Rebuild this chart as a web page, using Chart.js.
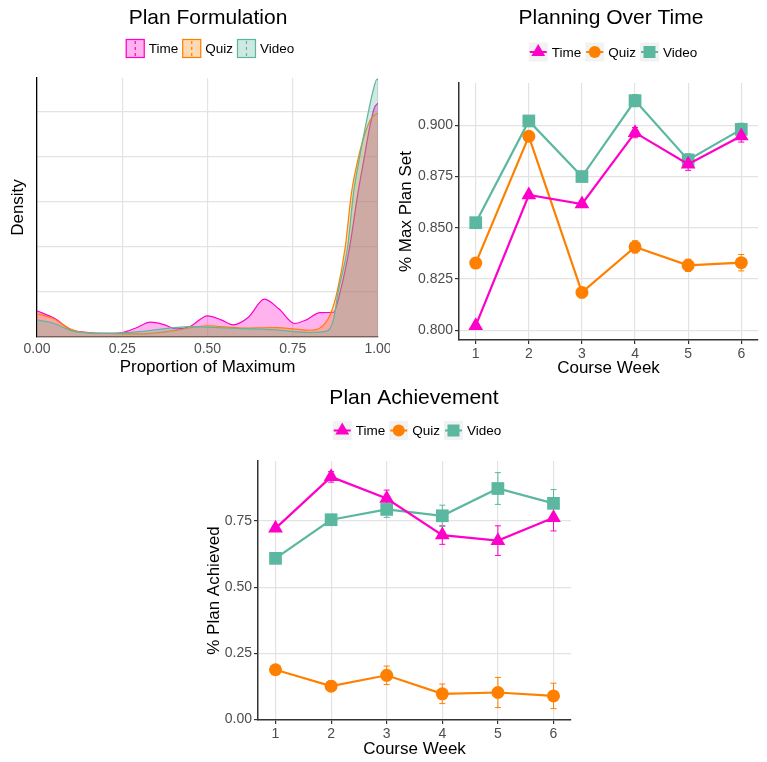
<!DOCTYPE html>
<html>
<head>
<meta charset="utf-8">
<script src="https://cdn.jsdelivr.net/npm/chart.js@4.4.0/dist/chart.umd.min.js"></script>
<style>
  body { margin: 0; background: #fff; width: 767px; height: 762px; position: relative; overflow: hidden; }
  .panel { position: absolute; overflow: hidden; }
</style>
</head>
<body>
<div class="panel" style="left:0;top:0;width:390px;height:385px"><canvas id="c1" width="400" height="385" style="width:400px;height:385px"></canvas></div>
<div class="panel" style="left:390px;top:0;width:377px;height:385px"><canvas id="c2" width="377" height="385" style="width:377px;height:385px"></canvas></div>
<div class="panel" style="left:190px;top:385px;width:390px;height:377px"><canvas id="c3" width="390" height="377" style="width:390px;height:377px"></canvas></div>
<script>
// series names + colours
const seriesNames = ["Time", "Quiz", "Video"];
const colTime = "#FF00C8";
const colQuiz = "#FF8000";
const colVideo = "#5BB7A0";

// density curves (Plan Formulation)
const timeDensX = [0, 0.05, 0.1, 0.15, 0.2, 0.25, 0.29, 0.333, 0.37, 0.41, 0.45, 0.5, 0.54, 0.575, 0.62, 0.667, 0.71, 0.755, 0.79, 0.83, 0.87, 0.889, 0.917, 0.941, 0.96, 0.976, 0.99, 1.0];
const timeDensY = [0.58, 0.42, 0.16, 0.1, 0.08, 0.1, 0.2, 0.33, 0.28, 0.18, 0.24, 0.47, 0.38, 0.27, 0.44, 0.84, 0.62, 0.3, 0.38, 0.54, 0.55, 1.0, 2.0, 3.19, 4.0, 4.67, 5.1, 5.19];
const quizDensX = [0, 0.05, 0.1, 0.15, 0.2, 0.3, 0.4, 0.5, 0.6, 0.7, 0.8, 0.83, 0.86, 0.88, 0.904, 0.922, 0.94, 0.961, 0.98, 1.0];
const quizDensY = [0.52, 0.4, 0.17, 0.09, 0.08, 0.07, 0.14, 0.25, 0.2, 0.21, 0.15, 0.2, 0.5, 1.0, 2.0, 3.19, 3.9, 4.5, 4.85, 4.98];
const videoDensX = [0, 0.05, 0.1, 0.15, 0.2, 0.3, 0.45, 0.55, 0.7, 0.8, 0.85, 0.87, 0.883, 0.911, 0.928, 0.945, 0.963, 0.985, 0.997, 1.0];
const videoDensY = [0.38, 0.3, 0.14, 0.09, 0.08, 0.12, 0.23, 0.2, 0.16, 0.1, 0.13, 0.4, 1.0, 2.0, 3.19, 3.95, 4.67, 5.45, 5.72, 5.72];
const densTicks = [0, 0.25, 0.5, 0.75, 1];
const densGrid = [0, 1, 2, 3, 4, 5];

// weekly means + error bars
const weeks = [1, 2, 3, 4, 5, 6];
const planSetTime = [0.8023, 0.866, 0.8616, 0.8964, 0.881, 0.8948];
const planSetQuiz = [0.8328, 0.8946, 0.8185, 0.8407, 0.8317, 0.833];
const planSetVideo = [0.8525, 0.9021, 0.875, 0.912, 0.8831, 0.898];
const planSetTimeErr = [0.001, 0.001, 0.0015, 0.0025, 0.003, 0.003];
const planSetQuizErr = [0.001, 0.001, 0.001, 0.003, 0.003, 0.004];
const planSetVideoErr = [0.001, 0.001, 0.001, 0.003, 0.003, 0.003];
const planSetTicks = [0.8, 0.825, 0.85, 0.875, 0.9];

const achTime = [0.7224, 0.917, 0.835, 0.697, 0.676, 0.7626];
const achQuiz = [0.188, 0.126, 0.167, 0.097, 0.102, 0.089];
const achVideo = [0.609, 0.755, 0.794, 0.770, 0.873, 0.817];
const achTimeErr = [0.01, 0.02, 0.032, 0.035, 0.056, 0.05];
const achQuizErr = [0.01, 0.02, 0.035, 0.037, 0.057, 0.048];
const achVideoErr = [0.01, 0.02, 0.03, 0.04, 0.06, 0.052];
const achTicks = [0, 0.25, 0.5, 0.75];

const FONT = '"Liberation Sans", Arial, sans-serif';
const tickCol = "#4D4D4D";
const gridCol = "#E3E3E3";

function pairs(xs, ys) { return xs.map((x, i) => ({ x: x, y: ys[i] })); }
function alpha(hex, a) {
  const n = parseInt(hex.slice(1), 16);
  return "rgba(" + (n >> 16) + "," + ((n >> 8) & 255) + "," + (n & 255) + "," + a + ")";
}

function marker(ctx, shape, x, y, col) {
  ctx.fillStyle = col;
  ctx.beginPath();
  if (shape === "triangle") {
    const r = 8;
    ctx.moveTo(x, y - r);
    ctx.lineTo(x + r * 0.866, y + r * 0.5);
    ctx.lineTo(x - r * 0.866, y + r * 0.5);
    ctx.closePath();
  } else if (shape === "circle") {
    ctx.arc(x, y, 6, 0, Math.PI * 2);
  } else {
    ctx.rect(x - 6, y - 6, 12, 12);
  }
  ctx.fill();
}

const cols = [colTime, colQuiz, colVideo];
const shapes = ["triangle", "circle", "rect"];

// title + legend drawn at fixed spots
function decor(title, tx, ty, lx, ly, kind) {
  return {
    id: "decor",
    afterDraw(chart) {
      const ctx = chart.ctx;
      ctx.save();
      ctx.font = "21px " + FONT;
      ctx.fillStyle = "#000";
      ctx.textAlign = "center";
      ctx.textBaseline = "middle";
      ctx.fillText(title, tx, ty);
      ctx.font = "13.5px " + FONT;
      ctx.textAlign = "left";
      const key = 19, gap = 4, sep = 4;
      let total = 0;
      seriesNames.forEach(n => { total += key + gap + ctx.measureText(n).width + sep; });
      total -= sep;
      let x = lx - total / 2;
      seriesNames.forEach((n, i) => {
        const y0 = ly - key / 2;
        if (kind === "fill") {
          ctx.fillStyle = alpha(cols[i], 0.3);
          ctx.fillRect(x, y0, key, key);
          ctx.strokeStyle = cols[i];
          ctx.lineWidth = 1.2;
          ctx.strokeRect(x + 0.5, y0 + 0.5, key - 1, key - 1);
          ctx.setLineDash([3, 3]);
          ctx.beginPath();
          ctx.moveTo(x + key / 2, y0 + 2);
          ctx.lineTo(x + key / 2, y0 + key - 2);
          ctx.stroke();
          ctx.setLineDash([]);
        } else {
          ctx.fillStyle = "#F2F2F2";
          ctx.fillRect(x, y0, key, key);
          ctx.strokeStyle = cols[i];
          ctx.lineWidth = 2;
          ctx.beginPath();
          ctx.moveTo(x + 1, ly);
          ctx.lineTo(x + key - 1, ly);
          ctx.stroke();
          marker(ctx, shapes[i], x + key / 2, ly, cols[i]);
        }
        ctx.fillStyle = "#000";
        ctx.fillText(n, x + key + gap, ly + 1);
        x += key + gap + ctx.measureText(n).width + sep;
      });
      ctx.restore();
    }
  };
}

const errorBars = {
  id: "errorBars",
  beforeDatasetsDraw(chart) {
    const ctx = chart.ctx, xs = chart.scales.x, ys = chart.scales.y;
    chart.data.datasets.forEach(ds => {
      if (!ds.errors) return;
      ctx.save();
      ctx.strokeStyle = ds.borderColor;
      ctx.lineWidth = 1;
      ds.data.forEach((p, i) => {
        const e = ds.errors[i];
        const x = xs.getPixelForValue(p.x);
        const y1 = ys.getPixelForValue(p.y - e), y2 = ys.getPixelForValue(p.y + e);
        ctx.beginPath();
        ctx.moveTo(x, y1); ctx.lineTo(x, y2);
        ctx.moveTo(x - 3, y1); ctx.lineTo(x + 3, y1);
        ctx.moveTo(x - 3, y2); ctx.lineTo(x + 3, y2);
        ctx.stroke();
      });
      ctx.restore();
    });
  }
};

function densSet(label, xs, ys, col) {
  return {
    label: label, data: pairs(xs, ys), borderColor: col, backgroundColor: alpha(col, 0.3),
    fill: "origin", borderWidth: 1.2, pointRadius: 0, cubicInterpolationMode: "monotone"
  };
}

// Plan Formulation
new Chart(document.getElementById("c1"), {
  type: "line",
  data: {
    datasets: [
      Object.assign(densSet("Video", videoDensX, videoDensY, colVideo), { order: 1 }),
      Object.assign(densSet("Quiz", quizDensX, quizDensY, colQuiz), { order: 2 }),
      Object.assign(densSet("Time", timeDensX, timeDensY, colTime), { order: 3 })
    ]
  },
  options: {
    responsive: false, animation: false,
    layout: { padding: { left: 0, top: 78, right: 22, bottom: 0 } },
    scales: {
      x: {
        type: "linear", min: 0, max: 1,
        afterBuildTicks: s => { s.ticks = densTicks.map(v => ({ value: v })); },
        ticks: { callback: v => v.toFixed(2), color: tickCol, font: { family: FONT, size: 14 }, padding: 4, maxRotation: 0 },
        grid: { color: gridCol, lineWidth: 1.2, drawTicks: false },
        border: { display: true, color: "#222", width: 1.3 },
        title: { display: true, text: "Proportion of Maximum", color: "#000", font: { family: FONT, size: 17 }, padding: { top: 0, bottom: 7 } },
        afterFit: s => { s.height = 48; }
      },
      y: {
        min: 0, max: 5.75,
        afterBuildTicks: s => { s.ticks = densGrid.map(v => ({ value: v })); },
        ticks: { display: false },
        grid: { color: gridCol, lineWidth: 1.2, drawTicks: false },
        border: { display: true, color: "#000", width: 1.3 },
        title: { display: true, text: "Density", color: "#000", font: { family: FONT, size: 17 }, padding: { top: 8, bottom: 0 } },
        afterFit: s => { s.width = 37; }
      }
    },
    plugins: { legend: { display: false }, tooltip: { enabled: false } }
  },
  plugins: [decor("Plan Formulation", 208, 18, 210, 48.5, "fill")]
});

function weekSets(t, q, v, te, qe, ve) {
  const base = { borderWidth: 2.2, pointBorderWidth: 0 };
  return [
    Object.assign({ label: "Time", data: pairs(weeks, t), errors: te, borderColor: colTime, backgroundColor: colTime, pointStyle: "triangle", pointRadius: 8.5 }, base),
    Object.assign({ label: "Quiz", data: pairs(weeks, q), errors: qe, borderColor: colQuiz, backgroundColor: colQuiz, pointStyle: "circle", pointRadius: 6.5 }, base),
    Object.assign({ label: "Video", data: pairs(weeks, v), errors: ve, borderColor: colVideo, backgroundColor: colVideo, pointStyle: "rect", pointRadius: 9 }, base)
  ];
}

function weekOptions(ymin, ymax, yTicks, digits, yTitle, pad, yWidth, xHeight, ytp, xtb) {
  return {
    responsive: false, animation: false,
    layout: { padding: pad },
    scales: {
      x: {
        type: "linear", min: 0.685, max: 6.315,
        afterBuildTicks: s => { s.ticks = weeks.map(v => ({ value: v })); },
        ticks: { color: tickCol, font: { family: FONT, size: 14 }, padding: 2 },
        grid: { color: gridCol, lineWidth: 1.2, tickLength: 4, tickColor: "#333" },
        border: { display: true, color: "#333", width: 1.5 },
        title: { display: true, text: "Course Week", color: "#000", font: { family: FONT, size: 17 }, padding: { top: 0, bottom: xtb } },
        afterFit: s => { s.height = xHeight; }
      },
      y: {
        min: ymin, max: ymax,
        afterBuildTicks: s => { s.ticks = yTicks.map(v => ({ value: v })); },
        ticks: { callback: v => v.toFixed(digits), color: tickCol, font: { family: FONT, size: 14 }, padding: 2 },
        grid: { color: gridCol, lineWidth: 1.2, tickLength: 4, tickColor: "#333" },
        border: { display: true, color: "#333", width: 1.5 },
        title: { display: true, text: yTitle, color: "#000", font: { family: FONT, size: 17 }, padding: { top: ytp, bottom: 0 } },
        afterFit: s => { s.width = yWidth; }
      }
    },
    plugins: { legend: { display: false }, tooltip: { enabled: false } }
  };
}

// Planning Over Time
new Chart(document.getElementById("c2"), {
  type: "line",
  data: { datasets: weekSets(planSetTime, planSetQuiz, planSetVideo, planSetTimeErr, planSetQuizErr, planSetVideoErr) },
  options: weekOptions(0.7953, 0.9206, planSetTicks, 3, "% Max Plan Set", { left: 0, top: 83, right: 4, bottom: 0 }, 69, 45, 5.8, 6.3),
  plugins: [errorBars, decor("Planning Over Time", 221, 18, 223, 52, "point")]
});

// Plan Achievement
new Chart(document.getElementById("c3"), {
  type: "line",
  data: { datasets: weekSets(achTime, achQuiz, achVideo, achTimeErr, achQuizErr, achVideoErr) },
  options: weekOptions(-0.002, 0.977, achTicks, 2, "% Plan Achieved", { left: 0, top: 76, right: 9, bottom: 0 }, 68, 42, 13.8, 2.3),
  plugins: [errorBars, decor("Plan Achievement", 224, 13, 227, 45.5, "point")]
});
</script>
</body>
</html>
